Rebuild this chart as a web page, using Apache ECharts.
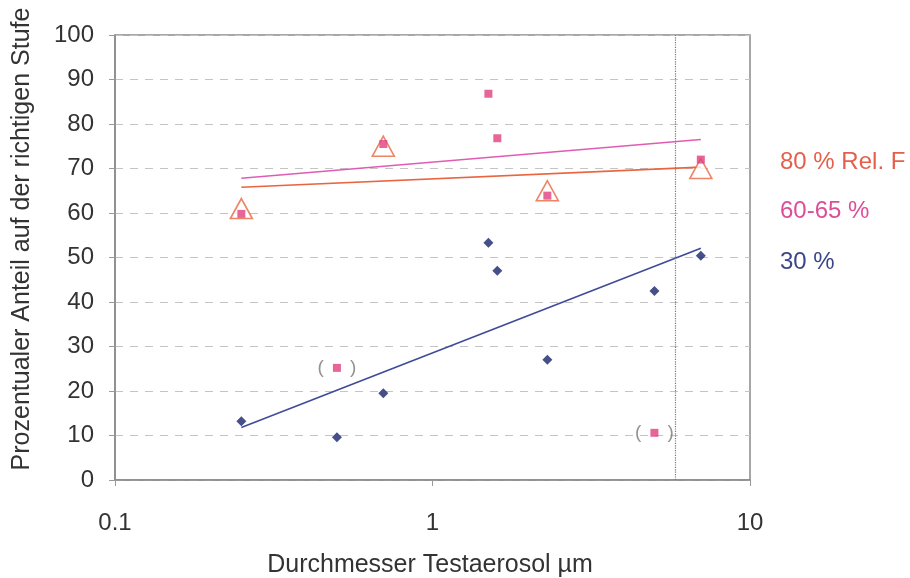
<!DOCTYPE html>
<html>
<head>
<meta charset="utf-8">
<script src="https://cdn.jsdelivr.net/npm/echarts@6/dist/echarts.min.js"></script>
<style>
  html, body { margin: 0; padding: 0; background: #fff; }
  #chart { width: 910px; height: 578px; }
</style>
</head>
<body>
<div id="chart"></div>
<script>
// values (x = diameter in µm, y = percent)
const rh30Points = [[0.25, 13.2], [0.5, 9.6], [0.7, 19.5], [1.5, 53.3], [1.6, 47], [2.3, 27], [5, 42.5], [7, 50.4]];
const rh60Points = [[0.25, 59.8], [0.7, 75.5], [1.5, 86.8], [1.6, 76.8], [2.3, 63.9], [7, 72]];
const rh60Excluded = [[0.5, 25.2], [5, 10.6]];
const rh80Points = [[0.25, 61], [0.7, 75], [2.3, 65], [7, 70]];

// trend line endpoints
const trend30 = [[0.25, 11.8], [7, 52.1]];
const trend60 = [[0.25, 67.8], [7, 76.5]];
const trend80 = [[0.25, 65.8], [7, 70.3]];

const markerLine = 5.8;
const xTicks = [0.1, 1, 10];

const legendItems = [
    { text: '80 % Rel. F', color: '#e4604c', y: 162 },
    { text: '60-65 %', color: '#dc4f97', y: 211 },
    { text: '30 %', color: '#3d4688', y: 262 }
];

const FONT = 'Liberation Sans, Arial, sans-serif';

const chart = echarts.init(document.getElementById('chart'));

const option = {
    backgroundColor: '#fff',
    animation: false,
    grid: {
        left: 115, right: 160, top: 35, bottom: 98,
        show: true,
        borderColor: '#8a8a8a',
        borderWidth: 1.5
    },
    xAxis: {
        type: 'log',
        logBase: 10,
        min: 0.1,
        max: 10,
        axisLine: { lineStyle: { color: '#8a8a8a', width: 1.5 } },
        axisTick: { show: true, length: 6, lineStyle: { color: '#999' } },
        minorTick: { show: false },
        splitLine: { show: false },
        axisLabel: {
            fontFamily: FONT, fontSize: 24, color: '#333', margin: 31,
            formatter: function (v) {
                for (const t of xTicks) {
                    if (Math.abs(v - t) / t < 1e-6) return String(t);
                }
                return '';
            }
        }
    },
    yAxis: {
        type: 'value',
        min: 0,
        max: 100,
        interval: 10,
        axisLine: { show: true, lineStyle: { color: '#8a8a8a', width: 1.5 } },
        axisTick: { show: true, length: 6, lineStyle: { color: '#999' } },
        splitLine: { lineStyle: { color: '#c4c4c4', type: [8, 7], width: 1 } },
        axisLabel: { fontFamily: FONT, fontSize: 24, color: '#333', margin: 21 }
    },
    graphic: legendItems.map(function (it) {
        return {
            type: 'text',
            x: 780,
            y: it.y,
            style: { text: it.text, fill: it.color, font: '24px ' + FONT, verticalAlign: 'middle' }
        };
    }).concat([
        {
            type: 'text',
            x: 22,
            y: 239,
            rotation: Math.PI / 2,
            style: {
                text: 'Prozentualer Anteil auf der richtigen Stufe',
                fill: '#333', font: '25px ' + FONT,
                align: 'center', verticalAlign: 'middle'
            }
        },
        {
            type: 'text',
            x: 430,
            y: 565,
            style: {
                text: 'Durchmesser Testaerosol µm',
                fill: '#333', font: '25px ' + FONT,
                align: 'center', verticalAlign: 'middle'
            }
        }
    ]),
    series: [
        {
            name: 'trend 30',
            type: 'line',
            data: trend30,
            symbol: 'none',
            lineStyle: { color: '#3f4b98', width: 1.6 },
            z: 2,
            markLine: {
                silent: true,
                symbol: 'none',
                label: { show: false },
                lineStyle: { color: '#777', type: 'dotted', width: 1.2 },
                data: [{ xAxis: markerLine }]
            }
        },
        {
            name: 'trend 60',
            type: 'line',
            data: trend60,
            symbol: 'none',
            lineStyle: { color: '#e05cb4', width: 1.6 },
            z: 2
        },
        {
            name: 'trend 80',
            type: 'line',
            data: trend80,
            symbol: 'none',
            lineStyle: { color: '#e8653f', width: 1.6 },
            z: 2
        },
        {
            name: '80 %',
            type: 'scatter',
            data: rh80Points,
            symbol: 'triangle',
            symbolSize: [22, 20],
            itemStyle: { color: '#fff', borderColor: '#e8653f', borderWidth: 1.6 },
            z: 3
        },
        {
            name: '60-65 %',
            type: 'scatter',
            data: rh60Points,
            symbol: 'rect',
            symbolSize: 8,
            itemStyle: { color: '#e0407f' },
            z: 4
        },
        {
            name: '60-65 % excluded',
            type: 'scatter',
            data: rh60Excluded,
            symbol: 'rect',
            symbolSize: 8,
            itemStyle: { color: '#e0407f' },
            z: 4,
            label: {
                show: true,
                position: 'inside',
                formatter: '{p|(}{gap|}{p|)}',
                rich: {
                    p: { fontFamily: FONT, fontSize: 19, color: '#777' },
                    gap: { width: 26 }
                }
            }
        },
        {
            name: '30 %',
            type: 'scatter',
            data: rh30Points,
            symbol: 'diamond',
            symbolSize: 10,
            itemStyle: { color: '#18236a' },
            z: 4
        }
    ]
};

chart.setOption(option);
</script>
</body>
</html>
